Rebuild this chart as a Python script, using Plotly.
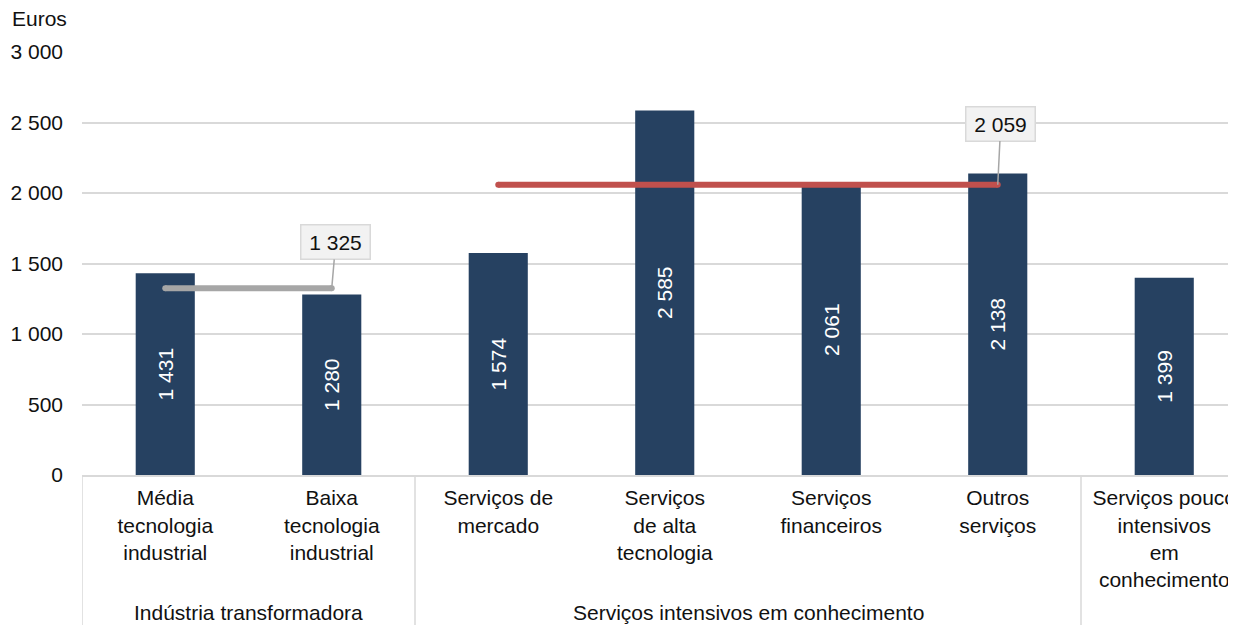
import plotly.graph_objects as go

# categorias e valores (euros)
categorias = [
    'Média<br>tecnologia<br>industrial',
    'Baixa<br>tecnologia<br>industrial',
    'Serviços de<br>mercado',
    'Serviços<br>de alta<br>tecnologia',
    'Serviços<br>financeiros',
    'Outros<br>serviços',
    'Serviços pouco<br>intensivos<br>em<br>conhecimento',
]
valores = [1431, 1280, 1574, 2585, 2061, 2138, 1399]

# médias por grupo
media_industria = 1325
media_servicos = 2059

# grupos (nome, primeira e última categoria)
grupos = ['Indústria transformadora', 'Serviços intensivos em conhecimento']
grupos_inicio = [0, 2]
grupos_fim = [1, 5]
separadores = [-0.5, 1.5, 5.5]

yticks = [0, 500, 1000, 1500, 2000, 2500, 3000]

FONT = 'Liberation Sans, Arial, sans-serif'
COR_BARRA = '#264161'
COR_GRELHA = '#D9D9D9'

x = list(range(len(categorias)))

fig = go.Figure()

fig.add_trace(go.Bar(
    x=x,
    y=valores,
    width=0.355,
    marker=dict(color=COR_BARRA, line=dict(width=0)),
    texttemplate='%{y:,}',
    textposition='inside',
    insidetextanchor='middle',
    textangle=-90,
    textfont=dict(color='white', size=21, family=FONT),
    hoverinfo='skip',
))

# linha da média - indústria
fig.add_trace(go.Scatter(
    x=[grupos_inicio[0], grupos_fim[0]],
    y=[media_industria, media_industria],
    mode='lines+markers',
    line=dict(color='#A6A6A6', width=6),
    marker=dict(color='#A6A6A6', size=6),
    hoverinfo='skip',
))

# linha da média - serviços intensivos
fig.add_trace(go.Scatter(
    x=[grupos_inicio[1], grupos_fim[1]],
    y=[media_servicos, media_servicos],
    mode='lines+markers',
    line=dict(color='#C0504D', width=6),
    marker=dict(color='#C0504D', size=6),
    hoverinfo='skip',
))

# rótulos das médias
for xi, yi, ax, ay in [(grupos_fim[0], media_industria, 4, -46),
                       (grupos_fim[1], media_servicos, 3, -61)]:
    fig.add_annotation(
        x=xi, y=yi, text=f'{yi:,}'.replace(',', ' '),
        showarrow=True, arrowhead=0, arrowwidth=1.5, arrowcolor='#A6A6A6',
        ax=ax, ay=ay, standoff=0,
        bgcolor='#F2F2F2', bordercolor='#D9D9D9', borderwidth=1.5,
        borderpad=2, width=64, height=29,
        font=dict(size=21, color='#111111', family=FONT),
    )

# separadores verticais do eixo de categorias
for s in separadores:
    fig.add_shape(type='line', xref='x', yref='paper',
                  x0=s, x1=s, y0=0, y1=-0.4,
                  line=dict(color=COR_GRELHA, width=1.5))

# nomes dos grupos
for nome, a, b in zip(grupos, grupos_inicio, grupos_fim):
    fig.add_annotation(
        x=(a + b) / 2, y=0, xref='x', yref='paper',
        yshift=-137, yanchor='middle', showarrow=False,
        text=nome, font=dict(size=21, color='#111111', family=FONT),
    )

fig.add_annotation(
    x=0, y=1, xref='paper', yref='paper', xshift=-72, yshift=34,
    xanchor='left', yanchor='middle', showarrow=False,
    text='Euros', font=dict(size=21, color='#111111', family=FONT),
)

# a página desloca a figura 8 px; margens compensam
fig.update_layout(
    width=1236, height=625,
    margin=dict(l=74, r=0, t=44, b=158),
    plot_bgcolor='white', paper_bgcolor='white',
    showlegend=False,
    separators=', ',
    font=dict(family=FONT, size=21, color='#111111'),
    xaxis=dict(
        range=[-0.5, 6.479],
        tickvals=x, ticktext=categorias,
        showgrid=False, zeroline=False,
        showline=True, linecolor=COR_GRELHA, linewidth=2,
        ticks='', automargin=False, tickangle=0,
        ticklabelstandoff=3,
    ),
    yaxis=dict(
        range=[0, 3000],
        tickvals=yticks, tickformat=',',
        showgrid=True, gridcolor=COR_GRELHA, gridwidth=1.5,
        zeroline=False, showline=False, ticks='',
        automargin=False, ticklabelstandoff=18,
    ),
)

fig.write_html('out.html')
